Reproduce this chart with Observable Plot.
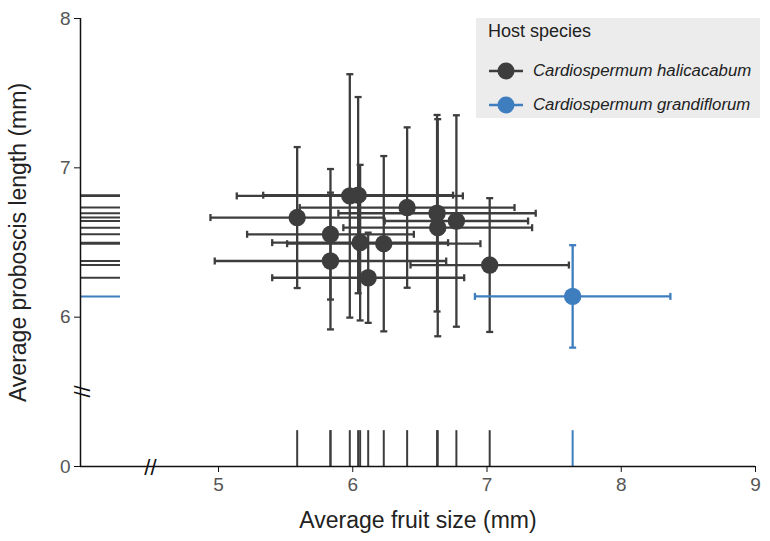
<!DOCTYPE html>
<html>
<head>
<meta charset="utf-8">
<script src="https://cdn.jsdelivr.net/npm/d3@7"></script>
<script src="https://cdn.jsdelivr.net/npm/@observablehq/plot@0.6"></script>
<style>
  html, body { margin: 0; padding: 0; background: #fff; }
  #wrap { position: relative; width: 770px; height: 541px; font-family: "Liberation Sans", Arial, sans-serif; }
  #legend { position: absolute; left: 476px; top: 18px; width: 284px; height: 100px; background: #ececec; }
  #legend .title { position: absolute; left: 12px; top: 3px; font-size: 18px; color: #222; }
  #legend .row { position: absolute; left: 12px; height: 20px; display: flex; align-items: center; }
  #legend .row span { font-style: italic; font-size: 16.8px; color: #222; margin-left: 9px; }
</style>
</head>
<body>
<div id="wrap"><div id="legend"></div></div>
<script>
// ---- data ----
const speciesNames = ["Cardiospermum halicacabum", "Cardiospermum grandiflorum"];
const speciesColors = ["#3d3d3d", "#3e7ebf"];
const species = [
  "Cardiospermum halicacabum","Cardiospermum halicacabum","Cardiospermum halicacabum",
  "Cardiospermum halicacabum","Cardiospermum halicacabum","Cardiospermum halicacabum",
  "Cardiospermum halicacabum","Cardiospermum halicacabum","Cardiospermum halicacabum",
  "Cardiospermum halicacabum","Cardiospermum halicacabum","Cardiospermum halicacabum",
  "Cardiospermum halicacabum","Cardiospermum grandiflorum"
];
const fruitSize    = [5.586, 5.834, 5.834, 5.978, 6.040, 6.055, 6.115, 6.231, 6.405, 6.628, 6.633, 6.772, 7.020, 7.638];
const fruitSizeErr = [0.646, 0.621, 0.862, 0.842, 0.707, 0.655, 0.715, 0.720, 0.800, 0.735, 0.703, 0.534, 0.590, 0.728];
const proboscis    = [6.667, 6.555, 6.376, 6.812, 6.817, 6.499, 6.264, 6.492, 6.734, 6.696, 6.599, 6.644, 6.349, 6.139];
const proboscisErr = [0.472, 0.437, 0.458, 0.815, 0.657, 0.521, 0.302, 0.587, 0.537, 0.658, 0.727, 0.708, 0.448, 0.343];
const xTicks = [5, 6, 7, 8, 9];
const xTickLabels = ["5", "6", "7", "8", "9"];
const yTicks = [5, 6, 7, 8];
const yTickLabels = ["0", "6", "7", "8"];

const rows = species.map((s, i) => ({
  species: s, x: fruitSize[i], ex: fruitSizeErr[i], y: proboscis[i], ey: proboscisErr[i]
}));

// ---- layout constants ----
const xMin = 3.972, xMax = 9;
const yMin = 5, yMax = 8;
const rugLeftEnd = 4.27;
const rugBottomEnd = 5.24;
const xBreakAt = 4.493;
const yBreakAt = 5.503;

const capH = {draw(ctx, size) { const r = Math.sqrt(size / Math.PI); ctx.moveTo(-r, 0); ctx.lineTo(r, 0); }};
const capV = {draw(ctx, size) { const r = Math.sqrt(size / Math.PI); ctx.moveTo(0, -r); ctx.lineTo(0, r); }};

const lw = 2.3;
const chart = Plot.plot({
  width: 770,
  height: 541,
  marginLeft: 80,
  marginRight: 15,
  marginTop: 18,
  marginBottom: 75,
  style: {fontFamily: "Liberation Sans, Arial, sans-serif", background: "transparent"},
  x: {domain: [xMin, xMax]},
  y: {domain: [yMin, yMax]},
  color: {domain: speciesNames, range: speciesColors},
  marks: [
    // rugs
    Plot.ruleY(rows, {y: "y", x1: xMin, x2: rugLeftEnd, stroke: "species", strokeWidth: 2}),
    Plot.ruleX(rows, {x: "x", y1: yMin, y2: rugBottomEnd, stroke: "species", strokeWidth: 2}),
    // error bars
    Plot.ruleX(rows, {x: "x", y1: d => d.y - d.ey, y2: d => d.y + d.ey, stroke: "species", strokeWidth: lw}),
    Plot.ruleY(rows, {y: "y", x1: d => d.x - d.ex, x2: d => d.x + d.ex, stroke: "species", strokeWidth: lw}),
    Plot.dot(rows, {x: "x", y: d => d.y - d.ey, symbol: capH, r: 3.5, stroke: "species", fill: "none", strokeWidth: lw}),
    Plot.dot(rows, {x: "x", y: d => d.y + d.ey, symbol: capH, r: 3.5, stroke: "species", fill: "none", strokeWidth: lw}),
    Plot.dot(rows, {x: d => d.x - d.ex, y: "y", symbol: capV, r: 3.5, stroke: "species", fill: "none", strokeWidth: lw}),
    Plot.dot(rows, {x: d => d.x + d.ex, y: "y", symbol: capV, r: 3.5, stroke: "species", fill: "none", strokeWidth: lw}),
    // points
    Plot.dot(rows, {x: "x", y: "y", r: 8.7, fill: "species", stroke: "none"}),
    // axis lines
    Plot.ruleX([xMin], {stroke: "#111", strokeWidth: 1.5}),
    Plot.ruleY([yMin], {stroke: "#111", strokeWidth: 1.5}),
    // axes
    Plot.axisX(xTicks, {tickSize: 6, tickPadding: 5, fontSize: 19, fill: "#555", stroke: "#111", label: null,
      tickFormat: d => xTickLabels[xTicks.indexOf(d)]}),
    Plot.axisY(yTicks, {tickSize: 6, tickPadding: 4, fontSize: 19, fill: "#555", stroke: "#111", label: null,
      tickFormat: d => yTickLabels[yTicks.indexOf(d)]}),
    // break marks
    Plot.text(["//"], {x: xBreakAt, y: yMin, dy: 1, fontSize: 22, fill: "#111"}),
    Plot.text(["//"], {x: xMin, y: yBreakAt, dx: 2, fontSize: 22, fill: "#111", rotate: -90}),
    // axis titles
    Plot.text(["Average fruit size (mm)"], {frameAnchor: "bottom", textAnchor: "middle", dy: 61, fontSize: 23, fill: "#222", letterSpacing: 0.3}),
    Plot.text(["Average proboscis length (mm)"], {frameAnchor: "left", textAnchor: "middle", dx: -62, rotate: -90, fontSize: 23, fill: "#222", letterSpacing: 0.3})
  ]
});
document.getElementById("wrap").prepend(chart);

// legend (HTML, built from the named arrays)
const legend = document.getElementById("legend");
const t = document.createElement("div");
t.className = "title";
t.textContent = "Host species";
legend.appendChild(t);
speciesNames.forEach((name, i) => {
  const row = document.createElement("div");
  row.className = "row";
  row.style.top = (43 + i * 34) + "px";
  const ns = "http://www.w3.org/2000/svg";
  const svg = document.createElementNS(ns, "svg");
  svg.setAttribute("width", 36); svg.setAttribute("height", 20);
  const ln = document.createElementNS(ns, "line");
  ln.setAttribute("x1", 1); ln.setAttribute("x2", 35); ln.setAttribute("y1", 10); ln.setAttribute("y2", 10);
  ln.setAttribute("stroke", speciesColors[i]); ln.setAttribute("stroke-width", 2.3);
  const c = document.createElementNS(ns, "circle");
  c.setAttribute("cx", 18); c.setAttribute("cy", 10); c.setAttribute("r", 8.5);
  c.setAttribute("fill", speciesColors[i]);
  svg.appendChild(ln); svg.appendChild(c);
  const sp = document.createElement("span");
  sp.textContent = name;
  row.appendChild(svg); row.appendChild(sp);
  legend.appendChild(row);
});
</script>
</body>
</html>
